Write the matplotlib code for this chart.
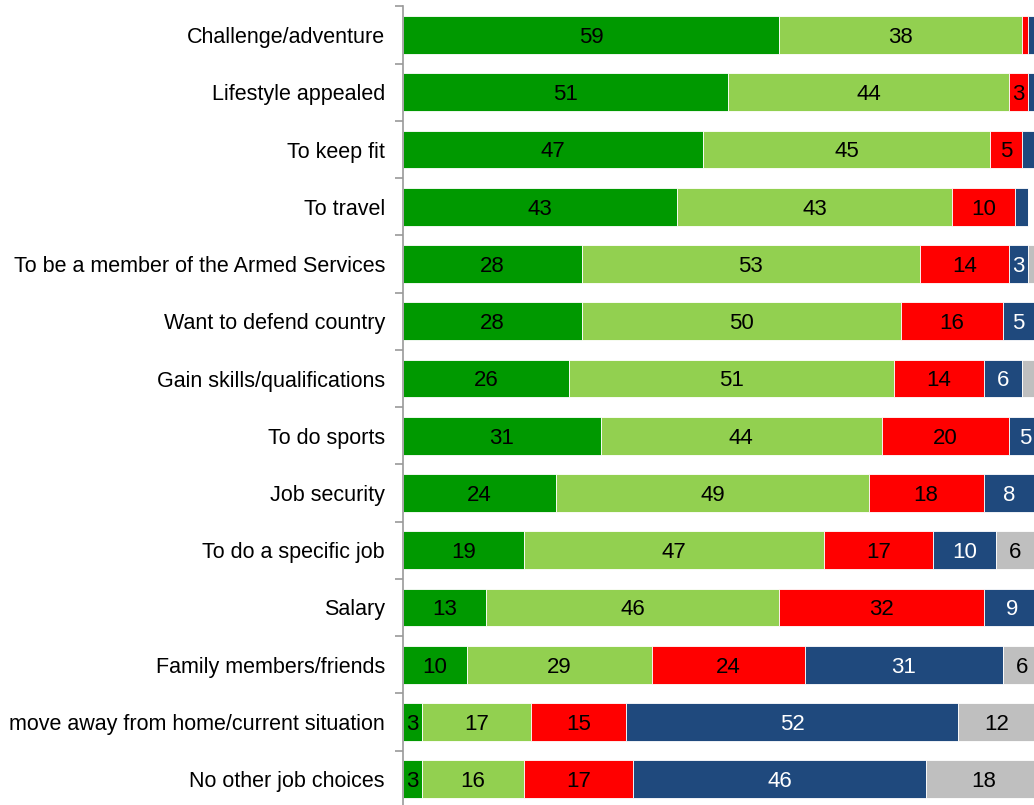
import matplotlib
matplotlib.use("Agg")
import matplotlib.pyplot as plt
import numpy as np

categories = [
    "Challenge/adventure",
    "Lifestyle appealed",
    "To keep fit",
    "To travel",
    "To be a member of the Armed Services",
    "Want to defend country",
    "Gain skills/qualifications",
    "To do sports",
    "Job security",
    "To do a specific job",
    "Salary",
    "Family members/friends",
    "move away from home/current situation",
    "No other job choices",
]

very_important = [59, 51, 47, 43, 28, 28, 26, 31, 24, 19, 13, 10, 3, 3]
fairly_important = [38, 44, 45, 43, 53, 50, 51, 44, 49, 47, 46, 29, 17, 16]
not_very_important = [1, 3, 5, 10, 14, 16, 14, 20, 18, 17, 32, 24, 15, 17]
not_at_all_important = [1, 2, 2, 2, 3, 5, 6, 5, 8, 10, 9, 31, 52, 46]
dont_know = [1, 0, 1, 0, 1, 1, 2, 0, 1, 6, 0, 6, 12, 18]

series = [very_important, fairly_important, not_very_important,
          not_at_all_important, dont_know]
colors = ["#009900", "#92D050", "#FF0000", "#1F497D", "#BFBFBF"]
text_colors = ["black", "black", "black", "white", "black"]

plt.rcParams["font.family"] = ["Liberation Sans", "DejaVu Sans"]

fig = plt.figure(figsize=(10.34, 8.05), dpi=100)
ax = fig.add_axes([403 / 1034, -0.0035, 638 / 1034, 0.9955])

n = len(categories)
y = np.arange(n)
left = np.zeros(n)
for vals, col, tcol in zip(series, colors, text_colors):
    vals = np.array(vals, dtype=float)
    ax.barh(y, vals, left=left, height=0.66, color=col,
            edgecolor="white", linewidth=0.6)
    for yi, (l, v) in enumerate(zip(left, vals)):
        if v >= 3:
            ax.text(l + v / 2, yi + 0.04, f"{int(v)}", ha="center",
                    va="center", fontsize=16, color=tcol)
    left += vals

ax.set_xlim(0, 100)
ax.set_ylim(n - 0.5, -0.5)
ax.set_xticks([])
ax.set_yticks(np.arange(n + 1) - 0.5)
ax.set_yticklabels([])
ax.set_yticks(y, minor=True)
ax.set_yticklabels(categories, minor=True, fontsize=15.5)
ax.tick_params(axis="y", which="minor", length=0, pad=13)
ax.tick_params(axis="y", which="major", length=6, color="#999999", width=1.2)

for s in ["top", "right", "bottom"]:
    ax.spines[s].set_visible(False)
ax.spines["left"].set_color("#999999")
ax.spines["left"].set_linewidth(1.2)

fig.savefig("out.png", dpi=100)
